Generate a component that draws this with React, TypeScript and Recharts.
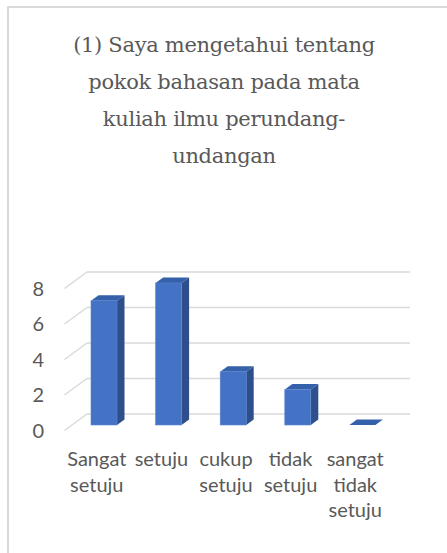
import { BarChart, Bar, XAxis, YAxis, CartesianGrid } from 'recharts';

const categories = ['Sangat setuju', 'setuju', 'cukup setuju', 'tidak setuju', 'sangat tidak setuju'];
const counts = [7, 8, 3, 2, 0];
const yTicks = [0, 2, 4, 6, 8];
const titleLines = ['(1) Saya mengetahui tentang', 'pokok bahasan pada mata', 'kuliah ilmu perundang-', 'undangan'];

const data = categories.map((name, i) => ({ name, value: counts[i] }));

// one "depth unit" of the fake 3D
const DX = 7.5;
const DY = 5.5;
const TEXT = '#595959';
const GRID = '#d9d9d9';

function Bar3D(props: any) {
  const { x, y, width, height } = props;
  const h = Math.max(0, height || 0);
  const front = '#4472C4';
  const side = '#2E4F8C';
  const top = '#3560AA';
  return (
    <g>
      {h > 0 && (
        <polygon
          points={`${x + width},${y} ${x + width + DX},${y - DY} ${x + width + DX},${y + h - DY} ${x + width},${y + h}`}
          fill={side}
        />
      )}
      <polygon
        points={`${x},${y} ${x + DX},${y - DY} ${x + width + DX},${y - DY} ${x + width},${y}`}
        fill={top}
      />
      {h > 0 && <rect x={x} y={y} width={width} height={h} fill={front} stroke="#5a85d0" strokeWidth={0.6} />}
    </g>
  );
}

function GridLine3D(props: any) {
  const { x1, x2, y1 } = props;
  const bx1 = x1 + 2 * DX;
  const bx2 = x2 + 2 * DX;
  const by = y1 - 2 * DY;
  return (
    <g key={props.key}>
      <line x1={bx1} y1={by} x2={bx2} y2={by} stroke={GRID} strokeWidth={1.5} />
      <line x1={bx1} y1={by} x2={x1 - DX} y2={y1 + DY} stroke={GRID} strokeWidth={1.5} />
    </g>
  );
}

function YTick(props: any) {
  const { x, y, payload } = props;
  return (
    <text x={x - 28} y={y + DY + 7} textAnchor="end" fontFamily="Lato" fontSize={20} fill={TEXT}>
      {payload.value}
    </text>
  );
}

function XTick(props: any) {
  const { x, y, payload } = props;
  const words = String(payload.value).split(' ');
  return (
    <text x={x - DX} y={y} textAnchor="middle" fontFamily="Lato" fontSize={20} fill={TEXT}>
      {words.map((w, i) => (
        <tspan key={i} x={x - DX} y={y + 41 + i * 25.5}>
          {w}
        </tspan>
      ))}
    </text>
  );
}

export default function App() {
  return (
    <div style={{ position: 'absolute', left: 0, top: 0, width: 447, height: 553, overflow: 'hidden', background: '#fff' }}>
      <div
        style={{
          position: 'absolute',
          left: 7,
          top: 6,
          width: 470,
          height: 570,
          border: '2px solid #d9d9d9',
        }}
      />
      <svg width={447} height={200} style={{ position: 'absolute', left: 0, top: 0 }}>
        <text textAnchor="middle" fontFamily="DejaVu Serif" fontSize={21} letterSpacing={-0.3} fill={TEXT}>
          {titleLines.map((l, i) => (
            <tspan key={i} x={224} y={52 + i * 37}>
              {l}
            </tspan>
          ))}
        </text>
      </svg>
      <div style={{ position: 'absolute', left: 0, top: 0 }}>
        <BarChart width={447} height={553} data={data} margin={{ top: 283, right: 52, bottom: 28, left: 0 }} barSize={26}>
          <CartesianGrid vertical={false} horizontal={(p: any) => <GridLine3D {...p} />} />
          <XAxis dataKey="name" axisLine={false} tickLine={false} tickSize={0} tickMargin={0} height={100} tick={<XTick />} interval={0} />
          <YAxis
            domain={[0, 8]}
            ticks={yTicks}
            axisLine={false}
            tickLine={false}
            tickSize={0}
            tickMargin={0}
            width={72}
            tick={<YTick />}
          />
          <Bar dataKey="value" isAnimationActive={false} shape={<Bar3D />} />
        </BarChart>
      </div>
    </div>
  );
}
